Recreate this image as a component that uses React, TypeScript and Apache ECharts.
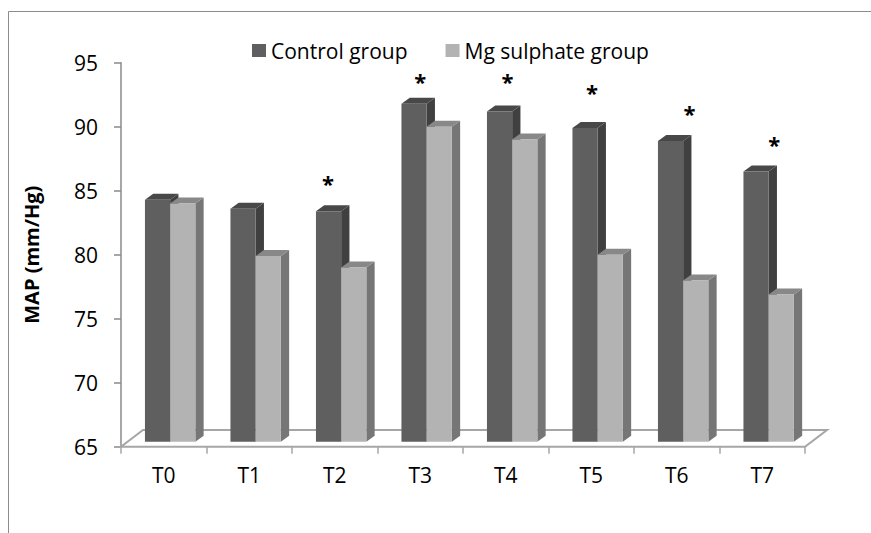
import React, { useEffect, useRef } from "react";
import * as echarts from "echarts";

const categories = ["T0", "T1", "T2", "T3", "T4", "T5", "T6", "T7"];
const controlGroup = [83.9, 83.2, 83.0, 91.4, 90.8, 89.5, 88.5, 86.1];
const mgSulphateGroup = [83.6, 79.5, 78.6, 89.6, 88.6, 79.6, 77.6, 76.5];
const yMin = 65;
const yMax = 95;
const yStep = 5;
// significance markers (*): category index, height on the value axis, shift within the band
const sigCategory = [2, 3, 4, 5, 6, 7];
const sigLevel = [85.9, 93.9, 93.9, 93.0, 91.4, 88.95];
const sigShift = [-0.08, 0, 0.02, 0.01, 0.15, 0.14];

const seriesNames = ["Control group", "Mg sulphate group"];

// 3D look (pixel styling)
const BAR_W = 25.2;
const BAR_DX = 8.3;
const BAR_DY = 6;
const ROW_DX = 6.4;
const ROW_DY = -5;
const FLOOR_DX = 22;
const FLOOR_DY = 16.7;

const FONT = "'Open Sans', 'Noto Sans', sans-serif";

function barRenderer(side: number, front: string, sideC: string, topC: string) {
  return (params: any, api: any) => {
    const idx = api.value(0);
    const v = api.value(1);
    const top = api.coord([idx, v]);
    const base = api.coord([idx, yMin]);
    const cx = top[0] + ROW_DX;
    const x0 = side === 0 ? cx - BAR_W : cx;
    const x1 = x0 + BAR_W;
    const yT = top[1] + ROW_DY;
    const yB = base[1] + ROW_DY;
    return {
      type: "group",
      children: [
        {
          type: "polygon",
          shape: { points: [[x1, yB], [x1 + BAR_DX, yB - BAR_DY], [x1 + BAR_DX, yT - BAR_DY], [x1, yT]] },
          style: { fill: sideC },
        },
        {
          type: "polygon",
          shape: { points: [[x0, yT], [x1, yT], [x1 + BAR_DX, yT - BAR_DY], [x0 + BAR_DX, yT - BAR_DY]] },
          style: { fill: topC },
        },
        {
          type: "rect",
          shape: { x: x0, y: yT, width: BAR_W, height: yB - yT },
          style: { fill: front },
        },
      ],
    };
  };
}

export default function App() {
  const ref = useRef<HTMLDivElement>(null);
  useEffect(() => {
    const chart = echarts.init(ref.current!, null, { renderer: "svg" });
    chart.setOption({
      animation: false,
      backgroundColor: "#ffffff",
      graphic: [
        {
          type: "rect",
          silent: true,
          shape: { x: 8.5, y: 11.5, width: 1000, height: 1000 },
          style: { fill: "none", stroke: "#8c8c8c", lineWidth: 1 },
        },
      ],
      legend: {
        data: seriesNames,
        left: 247,
        top: 35,
        itemWidth: 14,
        itemHeight: 13,
        itemGap: 38,
        icon: "rect",
        textStyle: { fontFamily: FONT, fontSize: 21, color: "#000" },
      },
      grid: { left: 121, right: 66, top: 62.7, bottom: 86.3, containLabel: false },
      xAxis: {
        type: "category",
        data: categories,
        boundaryGap: true,
        axisLine: { show: false },
        axisTick: { show: true, length: 7, lineStyle: { color: "#a6a6a6", width: 1.5 } },
        axisLabel: { fontFamily: FONT, fontSize: 21, color: "#000", margin: 18 },
      },
      yAxis: {
        type: "value",
        min: yMin,
        max: yMax,
        interval: yStep,
        name: "MAP (mm/Hg)",
        nameLocation: "middle",
        nameGap: 80,
        nameTextStyle: { fontFamily: FONT, fontSize: 20, fontWeight: "bold", color: "#000" },
        axisLine: { show: true, lineStyle: { color: "#8a8a8a", width: 1.5 } },
        axisTick: { show: true, length: 7, lineStyle: { color: "#8a8a8a", width: 1.5 } },
        splitLine: { show: false },
        axisLabel: { fontFamily: FONT, fontSize: 21, color: "#000", margin: 23 },
      },
      series: [
        {
          type: "custom",
          name: "floor",
          silent: true,
          data: [[0, yMin]],
          renderItem: (params: any, api: any) => {
            const bw = api.size([1, 0])[0];
            const a = api.coord([0, yMin]);
            const b = api.coord([categories.length - 1, yMin]);
            const xl = a[0] - bw / 2;
            const xr = b[0] + bw / 2;
            const y = a[1];
            return {
              type: "polygon",
              shape: {
                points: [[xl, y], [xr, y], [xr + FLOOR_DX, y - FLOOR_DY], [xl + FLOOR_DX, y - FLOOR_DY]],
              },
              style: { fill: "none", stroke: "#a6a6a6", lineWidth: 2 },
            };
          },
        },
        {
          type: "custom",
          name: seriesNames[0],
          itemStyle: { color: "#5f5f5f" },
          data: controlGroup.map((v, i) => [i, v]),
          encode: { x: 0, y: 1 },
          renderItem: barRenderer(0, "#5f5f5f", "#404040", "#484848"),
        },
        {
          type: "custom",
          name: seriesNames[1],
          itemStyle: { color: "#b3b3b3" },
          data: mgSulphateGroup.map((v, i) => [i, v]),
          encode: { x: 0, y: 1 },
          renderItem: barRenderer(1, "#b3b3b3", "#767676", "#888888"),
        },
        {
          type: "custom",
          name: "significance",
          silent: true,
          data: sigCategory.map((c, i) => [c, sigLevel[i], sigShift[i]]),
          encode: { x: 0, y: 1 },
          renderItem: (params: any, api: any) => {
            const p = api.coord([api.value(0), api.value(1)]);
            const bw = api.size([1, 0])[0];
            return {
              type: "text",
              x: p[0] + api.value(2) * bw,
              y: p[1] + 4,
              style: {
                text: "*",
                fontFamily: FONT,
                fontSize: 22,
                fontWeight: "bold",
                fill: "#000",
                align: "center",
                verticalAlign: "middle",
              },
            };
          },
        },
      ],
    });
    return () => chart.dispose();
  }, []);
  return (
    <div
      ref={ref}
      style={{ position: "absolute", left: 0, top: 0, width: 871, height: 533, background: "#fff" }}
    />
  );
}
